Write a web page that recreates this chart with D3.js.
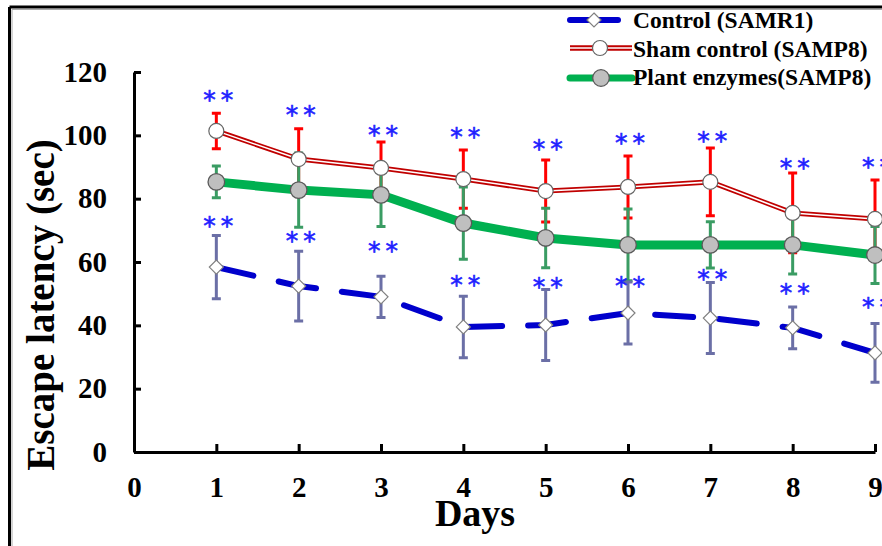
<!DOCTYPE html>
<html>
<head>
<script src="https://cdnjs.cloudflare.com/ajax/libs/d3/7.8.5/d3.min.js"></script>
<style>
    body { margin: 0; background: white; }
    svg text { font-family: "Liberation Serif", "Times New Roman", serif; font-weight: bold; }
    .stars { font-family: "DejaVu Sans", sans-serif; font-weight: normal; fill: #1f1fff; }
</style>
</head>
<body>
<script>
    var days = [1, 2, 3, 4, 5, 6, 7, 8, 9];
    var control = [58.4, 52.4, 49.0, 39.5, 40.1, 43.9, 42.3, 39.2, 31.3];
    var controlErr = [10.0, 11.0, 6.5, 9.7, 11.2, 9.8, 11.2, 6.6, 9.3];
    var sham = [101.4, 92.5, 89.7, 86.2, 82.4, 83.7, 85.3, 75.5, 73.6];
    var shamErr = [5.6, 9.6, 8.2, 9.2, 9.8, 9.8, 10.7, 12.6, 12.3];
    var plant = [85.3, 82.7, 81.2, 72.3, 67.6, 65.4, 65.4, 65.4, 62.2];
    var plantErr = [5.0, 11.7, 10.0, 11.4, 9.4, 11.3, 7.3, 9.2, 9.0];
    // level of the "**" marks, in seconds
    var starsUpper = [113.4, 108.6, 102.3, 101.7, 97.9, 99.8, 100.4, 91.9, 92.2];
    var starsLower = [73.6, 68.8, 65.7, 54.9, 54.3, 54.6, 56.8, 52.4, 48.0];
    var xTicks = [0, 1, 2, 3, 4, 5, 6, 7, 8, 9];
    var yTicks = [0, 20, 40, 60, 80, 100, 120];

    var width = 882, height = 546;

    var x = d3.scaleLinear().domain([0, 9]).range([134, 875]);
    var y = d3.scaleLinear().domain([0, 120]).range([452, 72]);

    var svg = d3.select('body').append('svg')
        .attr('width', width)
        .attr('height', height);

    svg.append('rect').attr('width', width).attr('height', height).attr('fill', 'white');

    // frame (top and left)
    svg.append('path').attr('d', 'M12,9.5H882M12,9.5V546')
        .attr('fill', 'none').attr('stroke', '#aaa').attr('stroke-width', 1);
    svg.append('path').attr('d', 'M9.5,7H882M9.5,7V546')
        .attr('fill', 'none').attr('stroke', 'black').attr('stroke-width', 3);

    // axes
    var yAxis = svg.append('g')
        .attr('transform', 'translate(' + x(0) + ',0)')
        .call(d3.axisLeft(y).tickValues(yTicks).tickSize(-7).tickSizeOuter(0).tickPadding(27));
    var xAxis = svg.append('g')
        .attr('transform', 'translate(0,' + y(0) + ')')
        .call(d3.axisBottom(x).tickValues(xTicks).tickSize(-8).tickSizeOuter(0).tickPadding(24));

    [xAxis, yAxis].forEach(function(a) {
        a.select('.domain').attr('stroke-width', 3);
        a.selectAll('.tick line').attr('stroke-width', 3);
        a.selectAll('.tick text')
            .attr('fill', 'black')
            .style('font-size', '29px')
            .style('font-family', '"Liberation Serif", serif')
            .style('font-weight', 'bold');
    });

    svg.append('text')
        .attr('x', 475).attr('y', 526)
        .attr('text-anchor', 'middle')
        .style('font-size', '38px')
        .text('Days');

    svg.append('text')
        .attr('transform', 'translate(54,305) rotate(-90)')
        .attr('text-anchor', 'middle')
        .style('font-size', '39px')
        .text('Escape latency (sec)');

    function series(vals, errs) {
        return days.map(function(d, i) { return { day: d, v: vals[i], e: errs[i] }; });
    }
    var cData = series(control, controlErr);
    var sData = series(sham, shamErr);
    var pData = series(plant, plantErr);

    function errorBars(data, color) {
        var g = svg.append('g').attr('stroke', color).attr('stroke-width', 3);
        g.selectAll('path').data(data).enter().append('path')
            .attr('fill', 'none')
            .attr('d', function(d) {
                var cx = x(d.day), t = y(d.v + d.e), b = y(d.v - d.e);
                return 'M' + cx + ',' + t + 'V' + b +
                    'M' + (cx - 4.5) + ',' + t + 'H' + (cx + 4.5) +
                    'M' + (cx - 4.5) + ',' + b + 'H' + (cx + 4.5);
            });
    }

    errorBars(sData, '#ff0000');
    errorBars(pData, '#3a9c63');
    errorBars(cData, '#6b6fa6');

    var line = d3.line().x(function(d) { return x(d.day); }).y(function(d) { return y(d.v); });

    svg.append('path').datum(cData).attr('d', line)
        .attr('fill', 'none').attr('stroke', '#0000cc').attr('stroke-width', 6)
        .attr('stroke-dasharray', '38,26').attr('stroke-linecap', 'round');

    svg.append('path').datum(sData).attr('d', line)
        .attr('fill', 'none').attr('stroke', '#c00000').attr('stroke-width', 5);
    svg.append('path').datum(sData).attr('d', line)
        .attr('fill', 'none').attr('stroke', 'white').attr('stroke-width', 1.5);

    svg.append('path').datum(pData).attr('d', line)
        .attr('fill', 'none').attr('stroke', '#00b050').attr('stroke-width', 9);

    function diamond(sel) {
        sel.attr('d', 'M0,-7L7,0L0,7L-7,0Z')
            .attr('fill', 'white').attr('stroke', '#808080').attr('stroke-width', 1.2);
    }
    function shamDot(sel) {
        sel.attr('r', 7.5).attr('fill', 'white').attr('stroke', '#666').attr('stroke-width', 1.2);
    }
    function plantDot(sel) {
        sel.attr('r', 8.3).attr('fill', '#bfbfbf').attr('stroke', '#595959').attr('stroke-width', 1.3);
    }

    svg.append('g').selectAll('path').data(cData).enter().append('path')
        .attr('transform', function(d) { return 'translate(' + x(d.day) + ',' + y(d.v) + ')'; })
        .call(diamond);
    svg.append('g').selectAll('circle').data(sData).enter().append('circle')
        .attr('cx', function(d) { return x(d.day); })
        .attr('cy', function(d) { return y(d.v); })
        .call(shamDot);
    svg.append('g').selectAll('circle').data(pData).enter().append('circle')
        .attr('cx', function(d) { return x(d.day); })
        .attr('cy', function(d) { return y(d.v); })
        .call(plantDot);

    // significance marks
    [starsUpper, starsLower].forEach(function(levels) {
        svg.append('g').selectAll('text').data(levels).enter().append('text')
            .attr('class', 'stars')
            .attr('x', function(d, i) { return x(days[i]) + 4.5; })
            .attr('y', function(d) { return y(d); })
            .attr('dy', '0.6em')
            .attr('text-anchor', 'middle')
            .style('font-size', '25px')
            .style('letter-spacing', '5px')
            .style('stroke', '#1f1fff')
            .style('stroke-width', 0.6)
            .text('**');
    });

    // legend
    var legend = svg.append('g');
    legend.append('path').attr('d', 'M570,20H618')
        .attr('stroke', '#0000cc').attr('stroke-width', 6).attr('stroke-linecap', 'round');
    legend.append('path').attr('transform', 'translate(594,20)').call(diamond);

    legend.append('path').attr('d', 'M570,48H632')
        .attr('stroke', '#c00000').attr('stroke-width', 5.5);
    legend.append('path').attr('d', 'M570,48H632')
        .attr('stroke', 'white').attr('stroke-width', 1.6);
    legend.append('circle').attr('cx', 600).attr('cy', 48).call(shamDot);

    legend.append('path').attr('d', 'M570,78H632')
        .attr('stroke', '#00b050').attr('stroke-width', 7).attr('stroke-linecap', 'round');
    legend.append('circle').attr('cx', 601).attr('cy', 78).call(plantDot);

    var legendLabels = ['Control (SAMR1)', 'Sham control (SAMP8)', 'Plant enzymes(SAMP8)'];
    legend.selectAll('text').data(legendLabels).enter().append('text')
        .attr('x', 633)
        .attr('y', function(d, i) { return 28 + i * 28.5; })
        .style('font-size', '23.5px')
        .text(function(d) { return d; });
</script>
</body>
</html>
